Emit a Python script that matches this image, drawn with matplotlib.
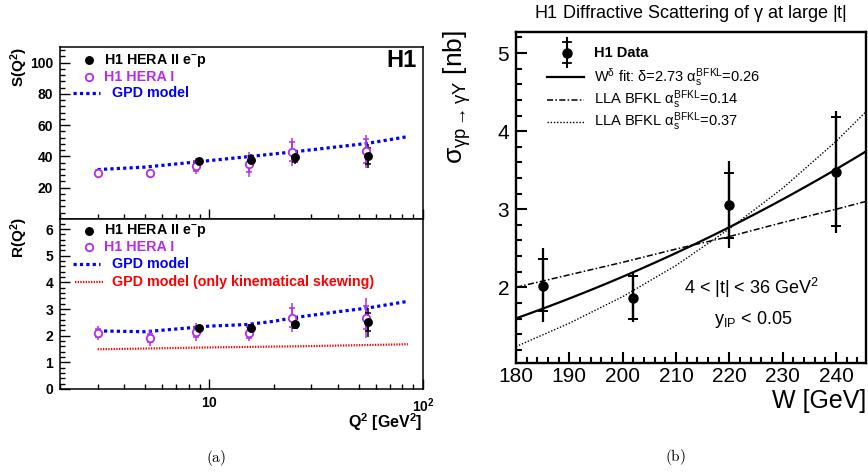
import numpy as np
import matplotlib
matplotlib.use("Agg")
import matplotlib.pyplot as plt
from matplotlib.ticker import FixedLocator, MultipleLocator, NullFormatter

plt.rcParams["font.family"] = ["Liberation Sans", "DejaVu Sans"]
plt.rcParams["mathtext.fontset"] = "custom"
plt.rcParams["mathtext.rm"] = "Liberation Sans"
plt.rcParams["mathtext.it"] = "Liberation Sans"
plt.rcParams["mathtext.bf"] = "Liberation Sans:bold"
plt.rcParams["mathtext.sf"] = "Liberation Sans"

# ---- (a) skewing S(Q2) and R(Q2) ----
q2_hera1 = [3.0, 5.25, 8.7, 15.4, 24.5, 54.0]
s_hera1 = [29.7, 29.2, 34.0, 35.0, 43.0, 43.4]
s_hera1_stat = [1.5, 1.5, 3.0, 5.0, 6.0, 7.5]
s_hera1_tot = [2.5, 2.5, 5.0, 8.0, 9.0, 10.5]
r_hera1 = [2.10, 1.92, 2.14, 2.12, 2.68, 2.68]
r_hera1_stat = [0.15, 0.15, 0.20, 0.20, 0.35, 0.42]
r_hera1_tot = [0.27, 0.30, 0.32, 0.33, 0.53, 0.75]

q2_hera2 = [8.9, 15.7, 25.2, 55.3]
s_hera2 = [36.8, 38.0, 39.4, 40.2]
s_hera2_stat = [1.0, 2.0, 2.8, 5.0]
s_hera2_tot = [2.0, 3.5, 4.5, 7.5]
r_hera2 = [2.30, 2.29, 2.45, 2.51]
r_hera2_stat = [0.07, 0.10, 0.17, 0.33]
r_hera2_tot = [0.12, 0.15, 0.20, 0.54]

q2_gpd = [3, 5, 8.7, 15, 25, 40, 55, 85]
s_gpd = [31.6, 33.2, 36.5, 39.8, 43.0, 46.2, 48.4, 52.7]
q2_gpd_r = [3, 5, 10, 15, 20, 25, 40, 55, 85]
r_gpd = [2.18, 2.15, 2.36, 2.42, 2.54, 2.68, 2.90, 3.04, 3.29]
q2_kin = [3, 10, 30, 85]
r_kin = [1.49, 1.56, 1.61, 1.68]

# ---- (b) gamma p -> gamma Y cross section ----
w_data = [185, 202, 220, 240]
sigma = [2.02, 1.86, 3.06, 3.48]
stat_up = [0.34, 0.29, 0.41, 0.70]
stat_dn = [0.32, 0.26, 0.43, 0.69]
tot_up = [0.48, 0.33, 0.56, 0.78]
tot_dn = [0.47, 0.31, 0.56, 0.79]

fit_delta = 2.73
fit_w0 = 220.0
fit_sigma0 = 2.77

w_model = [180, 190, 200, 210, 220, 230, 240, 245.6]
lla_014 = [2.00, 2.16, 2.32, 2.49, 2.65, 2.83, 3.00, 3.10]
lla_037 = [1.24, 1.54, 1.88, 2.28, 2.75, 3.27, 3.87, 4.25]

MAG = "#b52cf0"
BLUE = "#0000ff"
RED = "#ff0000"
DASHDOT = (0, (4, 1.5, 1, 1.5))
DOTTED = (0, (1, 1.3))

W, H = 868, 475
fig = plt.figure(figsize=(W / 100, H / 100), dpi=100)


def box(l, t, r, b):
    return [l / W, 1 - b / H, (r - l) / W, (b - t) / H]


def style_left(ax):
    for s in ax.spines.values():
        s.set_linewidth(1.1)
    ax.set_xscale("log")
    ax.set_xlim(2, 100)
    ax.tick_params(which="both", direction="in", top=False, right=False,
                   width=1.0, labelsize=10, pad=5)
    ax.tick_params(which="major", length=7)
    ax.tick_params(which="minor", length=3.5)
    ax.xaxis.set_major_locator(FixedLocator([10, 100]))
    ax.xaxis.set_minor_locator(FixedLocator(list(range(2, 10)) + list(range(20, 100, 10))))
    ax.xaxis.set_minor_formatter(NullFormatter())


def draw_points(ax, x, y, stat, tot, filled):
    col = "black" if filled else MAG
    ax.errorbar(x, y, yerr=tot, fmt="none", ecolor=col, elinewidth=1.1, capsize=0)
    ax.errorbar(x, y, yerr=stat, fmt="none", ecolor=col, elinewidth=1.1, capsize=2.3,
                capthick=1.1)
    if filled:
        ax.plot(x, y, "o", color="black", ms=5.4, zorder=5)
    else:
        ax.plot(x, y, "o", mfc="white", mec=MAG, mew=1.3, ms=5.4, zorder=4)


def legend_rows(ax, rows_y, with_kin):
    tr = ax.transAxes
    fs = 10.3
    ax.plot([0.08], [rows_y[0]], "o", color="black", ms=5.4, transform=tr, clip_on=False)
    ax.text(0.121, rows_y[0], r"H1 HERA II e$^{\mathbf{-}}$p", transform=tr, fontsize=fs,
            fontweight="bold", va="center")
    ax.plot([0.08], [rows_y[1]], "o", mfc="white", mec=MAG, mew=1.3, ms=5.4,
            transform=tr, clip_on=False)
    ax.text(0.121, rows_y[1], "H1 HERA I", transform=tr, fontsize=fs, fontweight="bold",
            color=MAG, va="center")
    ax.plot([0.037, 0.11], [rows_y[2]] * 2, color=BLUE, lw=2.3, ls=(0, (1, 1)),
            transform=tr, clip_on=False)
    ax.text(0.143, rows_y[2], "GPD model", transform=tr, fontsize=fs, fontweight="bold",
            color=BLUE, va="center")
    if with_kin:
        ax.plot([0.041, 0.118], [rows_y[3]] * 2, color=RED, lw=1.6, ls=(0, (0.6, 0.6)),
                transform=tr, clip_on=False)
        ax.text(0.143, rows_y[3], "GPD model (only kinematical skewing)", transform=tr,
                fontsize=fs, fontweight="bold", color=RED, va="center")


# upper: S(Q2)
ax_s = fig.add_axes(box(60, 47, 423, 219))
style_left(ax_s)
ax_s.set_ylim(0, 110)
ax_s.yaxis.set_major_locator(FixedLocator([20, 40, 60, 80, 100]))
ax_s.yaxis.set_minor_locator(MultipleLocator(4))
ax_s.xaxis.set_major_formatter(NullFormatter())
ax_s.set_yticks([20, 40, 60, 80, 100])
ax_s.set_yticklabels(["20", "40", "60", "80", "100"], fontweight="bold")
ax_s.plot(q2_gpd, s_gpd, color=BLUE, lw=2.3, ls=(0, (1, 1)))
draw_points(ax_s, q2_hera1, s_hera1, s_hera1_stat, s_hera1_tot, False)
draw_points(ax_s, q2_hera2, s_hera2, s_hera2_stat, s_hera2_tot, True)
legend_rows(ax_s, [0.924, 0.827, 0.731], False)
ax_s.text(0.983, 0.92, "H1", transform=ax_s.transAxes, fontsize=17, fontweight="bold",
          ha="right", va="center")

# lower: R(Q2)
ax_r = fig.add_axes(box(60, 219, 423, 389))
style_left(ax_r)
ax_r.set_ylim(0, 6.38)
ax_r.yaxis.set_minor_locator(MultipleLocator(0.2))
ax_r.set_yticks(range(7))
ax_r.set_yticklabels([str(v) for v in range(7)], fontweight="bold")
ax_r.set_xticklabels([r"$\mathbf{10}$", r"$\mathbf{10^{2}}$"])
ax_r.plot(q2_kin, r_kin, color=RED, lw=1.6, ls=(0, (0.6, 0.6)))
ax_r.plot(q2_gpd_r, r_gpd, color=BLUE, lw=2.3, ls=(0, (1, 1)))
draw_points(ax_r, q2_hera1, r_hera1, r_hera1_stat, r_hera1_tot, False)
draw_points(ax_r, q2_hera2, r_hera2, r_hera2_stat, r_hera2_tot, True)
legend_rows(ax_r, [0.931, 0.834, 0.734, 0.631], True)

fig.text(19 / W, 1 - 67 / H, r"S(Q$^{\mathbf{2}}$)", rotation=90, fontsize=11,
         fontweight="bold", ha="center", va="center")
fig.text(19 / W, 1 - 238 / H, r"R(Q$^{\mathbf{2}}$)", rotation=90, fontsize=11,
         fontweight="bold", ha="center", va="center")
fig.text(422 / W, 1 - 422 / H, r"Q$^{\mathbf{2}}$ [GeV$^{\mathbf{2}}$]", fontsize=11.5,
         fontweight="bold", ha="right", va="center")
fig.text(216 / W, 1 - 458 / H, r"$\mathrm{(a)}$", math_fontfamily="cm", fontsize=11,
         ha="center", va="center")

# ---- (b) ----
ax_w = fig.add_axes(box(516, 32, 866, 363))
for s in ax_w.spines.values():
    s.set_linewidth(1.7)
ax_w.set_xlim(180, 245.6)
ax_w.set_ylim(1.03, 5.27)
ax_w.xaxis.set_major_locator(MultipleLocator(10))
ax_w.xaxis.set_minor_locator(MultipleLocator(2))
ax_w.yaxis.set_major_locator(MultipleLocator(1))
ax_w.yaxis.set_minor_locator(MultipleLocator(0.2))
ax_w.tick_params(which="both", direction="in", top=False, right=False, width=1.5)
ax_w.tick_params(which="major", length=8)
ax_w.tick_params(which="minor", length=4.5)
ax_w.tick_params(axis="x", labelsize=15, pad=3)
ax_w.tick_params(axis="y", labelsize=15, pad=5)

w_fit = np.linspace(180, 245.6, 100)
ax_w.plot(w_fit, fit_sigma0 * (w_fit / fit_w0) ** fit_delta, color="black", lw=1.6)
ax_w.plot(w_model, lla_014, color="black", lw=1.1, ls=DASHDOT)
ax_w.plot(w_model, lla_037, color="black", lw=1.0, ls=DOTTED)
ax_w.errorbar(w_data, sigma, yerr=[tot_dn, tot_up], fmt="none", ecolor="black",
              elinewidth=1.6, capsize=0)
ax_w.errorbar(w_data, sigma, yerr=[stat_dn, stat_up], fmt="none", ecolor="black",
              elinewidth=1.6, capsize=3.6, capthick=1.4)
ax_w.plot(w_data, sigma, "o", color="black", ms=6.5, zorder=5)

tr = ax_w.transAxes
ax_w.plot([0.145, 0.145], [0.894, 0.982], color="black", lw=1.5, transform=tr)
ax_w.plot([0.133, 0.157], [0.971, 0.971], color="black", lw=1.3, transform=tr)
ax_w.plot([0.133, 0.157], [0.905, 0.905], color="black", lw=1.3, transform=tr)
ax_w.plot([0.145], [0.9375], "o", color="black", ms=6.5, transform=tr)
ax_w.text(0.223, 0.9375, "H1 Data", transform=tr, fontsize=10.5, fontweight="bold",
          va="center")
ax_w.plot([0.089, 0.194], [0.865, 0.865], color="black", lw=1.6, transform=tr)
ax_w.text(0.223, 0.865, r"W$^{\delta}$ fit: $\delta$=2.73 $\alpha_{s}^{\rm BFKL}$=0.26",
          transform=tr, fontsize=10.5, va="center")
ax_w.plot([0.089, 0.194], [0.795, 0.795], color="black", lw=1.1, ls=DASHDOT, transform=tr)
ax_w.text(0.223, 0.795, r"LLA BFKL $\alpha_{s}^{\rm BFKL}$=0.14", transform=tr,
          fontsize=10.5, va="center")
ax_w.plot([0.089, 0.194], [0.729, 0.729], color="black", lw=1.0, ls=DOTTED, transform=tr)
ax_w.text(0.223, 0.729, r"LLA BFKL $\alpha_{s}^{\rm BFKL}$=0.37", transform=tr,
          fontsize=10.5, va="center")

ax_w.text(0.673, 0.227, r"4 < |t| < 36 GeV$^{2}$", transform=tr, fontsize=13,
          ha="center", va="center")
ax_w.text(0.677, 0.13, r"y$_{\rm IP}$ < 0.05", transform=tr, fontsize=13,
          ha="center", va="center")

fig.text(690 / W, 1 - 13 / H, r"H1 Diffractive Scattering of $\gamma$ at large |t|",
         fontsize=13, ha="center", va="center")
fig.text(457 / W, 1 - 97 / H, r"$\sigma_{\gamma p\rightarrow\gamma Y}$ [nb]", rotation=90,
         fontsize=19, ha="center", va="center")
fig.text(866 / W, 1 - 401 / H, "W [GeV]", fontsize=18, ha="right", va="center")
fig.text(675 / W, 1 - 457 / H, r"$\mathrm{(b)}$", math_fontfamily="cm", fontsize=11,
         ha="center", va="center")

fig.savefig("out.png", dpi=100)
